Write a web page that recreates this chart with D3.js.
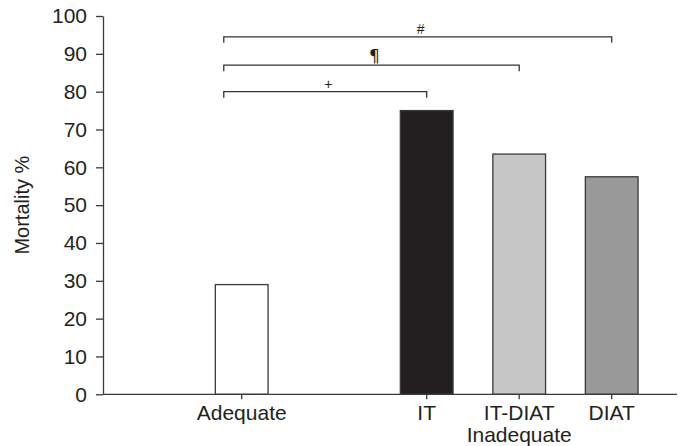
<!DOCTYPE html>
<html>
<head>
<meta charset="utf-8">
<script src="https://cdn.jsdelivr.net/npm/d3@7"></script>
<style>
  html, body { margin: 0; padding: 0; background: #fff; }
  svg { display: block; }
  text { font-family: "Liberation Sans", Arial, Helvetica, sans-serif; fill: #231f20; }
</style>
</head>
<body>
<div id="chart"></div>
<script>
// ---- data ----
const categories = ["Adequate", "IT", "IT-DIAT", "DIAT"];
const slots = ["Adequate", "__gap__", "IT", "IT-DIAT", "DIAT"];
const mortality = [29, 75, 63.5, 57.5];
const barFills = ["#ffffff", "#231f20", "#c6c6c6", "#999999"];
const yTicks = [0, 10, 20, 30, 40, 50, 60, 70, 80, 90, 100];
const yLabel = "Mortality %";
const groupLabel = "Inadequate";
const groupUnder = "IT-DIAT";
const compFrom = ["Adequate", "Adequate", "Adequate"];
const compTo = ["IT", "IT-DIAT", "DIAT"];
const compLevel = [80, 87, 94.5];
const compMark = ["+", "\u00b6", "#"];
const compMarkSize = [14, 17, 14];

// ---- layout ----
const W = 681, H = 446;
const mLeft = 103, mTop = 16, mBottom = 394.3, mRightEdge = 677;

const svg = d3.select("#chart").append("svg").attr("width", W).attr("height", H);

const y = d3.scaleLinear().domain([0, 100]).range([mBottom, mTop]);
const x = d3.scaleBand().domain(slots).range([195.45, 657.95]).paddingInner(0.43).paddingOuter(0.215);

const ink = "#3a3a3a";

// y axis
const gy = svg.append("g").attr("transform", `translate(${mLeft},0)`)
  .call(d3.axisLeft(y).tickValues(yTicks).tickSize(7).tickSizeOuter(0).tickPadding(9));
gy.select(".domain").attr("stroke", ink).attr("stroke-width", 1.3);
gy.selectAll(".tick line").attr("stroke", ink).attr("stroke-width", 1.3);
gy.selectAll(".tick text").style("font-size", "21px").attr("fill", "#231f20");

// bars
svg.append("g").selectAll("rect").data(categories).join("rect")
  .attr("x", d => x(d))
  .attr("width", x.bandwidth())
  .attr("y", (d, i) => y(mortality[i]))
  .attr("height", (d, i) => y(0) - y(mortality[i]))
  .attr("fill", (d, i) => barFills[i])
  .attr("stroke", ink)
  .attr("stroke-width", 1.3);

// x axis
const gx = svg.append("g").attr("transform", `translate(0,${mBottom})`)
  .call(d3.axisBottom(x).tickValues(categories).tickSize(5).tickSizeOuter(0).tickPadding(6));
gx.select(".domain").remove();
gx.selectAll(".tick line").attr("stroke", ink).attr("stroke-width", 1.3);
gx.selectAll(".tick text").style("font-size", "21px").attr("fill", "#231f20");
svg.append("line")
  .attr("x1", mLeft).attr("x2", mRightEdge)
  .attr("y1", y(0)).attr("y2", y(0))
  .attr("stroke", ink).attr("stroke-width", 1.3);

// group label
svg.append("text")
  .attr("x", x(groupUnder) + x.bandwidth() / 2)
  .attr("y", mBottom + 47.5)
  .attr("text-anchor", "middle")
  .style("font-size", "21px")
  .text(groupLabel);

// y label
svg.append("text")
  .attr("transform", `translate(29,${(mTop + mBottom) / 2}) rotate(-90)`)
  .attr("text-anchor", "middle")
  .style("font-size", "20px")
  .text(yLabel);

// comparison brackets
const bg = svg.append("g");
compTo.forEach((to, i) => {
  const x1 = x(compFrom[i]) + x.bandwidth() * 0.16;
  const x2 = x(to) + x.bandwidth() / 2;
  const yy = y(compLevel[i]);
  bg.append("path")
    .attr("d", `M${x1},${yy + 6}V${yy}H${x2}V${yy + 6}`)
    .attr("fill", "none")
    .attr("stroke", "#333")
    .attr("stroke-width", 1.3);
  bg.append("text")
    .attr("x", (x1 + x2) / 2 + 3)
    .attr("y", yy - 3)
    .attr("text-anchor", "middle")
    .style("font-size", compMarkSize[i] + "px")
    .style("font-family", i === 1 ? "'DejaVu Sans', sans-serif" : null)
    .text(compMark[i]);
});
</script>
</body>
</html>
